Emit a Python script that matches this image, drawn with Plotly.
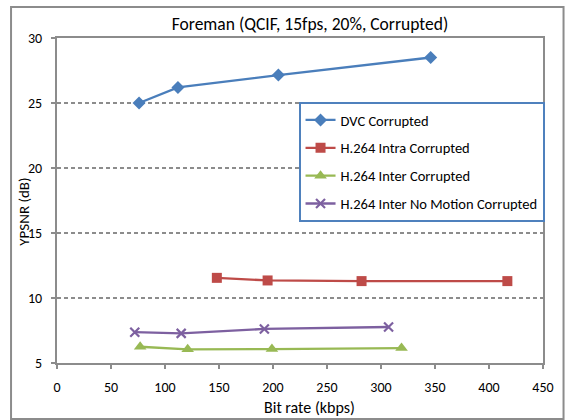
import plotly.graph_objects as go

# Bit rate (kbps) and luminance PSNR (dB) for each codec configuration
dvc_rate = [76, 112, 205, 346]
dvc_psnr = [25.0, 26.2, 27.15, 28.5]

intra_rate = [148, 195, 282, 417]
intra_psnr = [11.55, 11.35, 11.3, 11.3]

inter_rate = [77, 121, 199, 319]
inter_psnr = [6.25, 6.05, 6.07, 6.15]

nomotion_rate = [72, 115, 192, 307]
nomotion_psnr = [7.37, 7.28, 7.62, 7.77]

x_ticks = [0, 50, 100, 150, 200, 250, 300, 350, 400, 450]
y_ticks = [5, 10, 15, 20, 25, 30]

FONT = "Carlito, 'Open Sans', sans-serif"
GRID = "#8c8c8c"

# Plot-area geometry in pixels
L, R, T, B = 57, 12, 38, 57
W, H = 566, 420
PW, PH = W - L - R, H - T - B


def px_x(px):
    return (px - L) / PW


def px_y(py):
    return 1 - (py - T) / PH


fig = go.Figure()

series = [
    ("DVC Corrupted", dvc_rate, dvc_psnr, "#4A7EBB", dict(symbol="diamond", size=10)),
    ("H.264 Intra Corrupted", intra_rate, intra_psnr, "#BE4B48", dict(symbol="square", size=10)),
    ("H.264 Inter Corrupted", inter_rate, inter_psnr, "#98B954", dict(symbol="triangle-up", size=11)),
    ("H.264 Inter No Motion Corrupted", nomotion_rate, nomotion_psnr, "#7D60A0",
     dict(symbol="x-thin", size=9, line=dict(width=2.2, color="#7D60A0"))),
]

for i, (name, xs, ys, color, marker) in enumerate(series):
    fig.add_trace(go.Scatter(
        x=xs, y=ys, name=name, mode="lines+markers",
        line=dict(color=color, width=2.3),
        marker=dict(color=color, **marker),
        legendgroup=f"g{i}",
    ))

# Chart-area frame around the whole figure
fig.add_shape(type="rect", xref="paper", yref="paper",
              x0=px_x(10), x1=px_x(575), y0=px_y(419), y1=px_y(7),
              line=dict(color="#8c8c8c", width=2), layer="below")

# Axis titles
fig.add_annotation(text="Bit rate (kbps)", xref="paper", yref="paper",
                   x=px_x(315), y=px_y(407), xanchor="center", yanchor="middle",
                   showarrow=False, font=dict(family=FONT, size=16))
fig.add_annotation(text="YPSNR (dB)", xref="paper", yref="paper", textangle=-90,
                   x=px_x(23), y=px_y(212), xanchor="center", yanchor="middle",
                   showarrow=False, font=dict(family=FONT, size=15))

fig.update_layout(
    width=W, height=H,
    margin=dict(l=L, r=R, t=T, b=B),
    paper_bgcolor="white", plot_bgcolor="white",
    font=dict(family=FONT, size=14, color="#000000"),
    title=dict(text="Foreman (QCIF, 15fps, 20%, Corrupted)",
               x=310 / W, xanchor="center", y=1 - 24 / H, yanchor="middle",
               font=dict(family=FONT, size=17.5, color="#000000")),
    showlegend=True,
    legend=dict(x=px_x(304), y=px_y(102), xanchor="left", yanchor="top",
                bgcolor="white", bordercolor="#4F81BD", borderwidth=2,
                font=dict(family=FONT, size=14.5), tracegroupgap=6, itemwidth=30,
                entrywidth=216, entrywidthmode="pixels"),
    xaxis=dict(range=[0, 450], tickvals=x_ticks, showgrid=False, zeroline=False,
               showline=True, linecolor=GRID, linewidth=2, mirror=True,
               ticks="outside", ticklen=4, tickcolor=GRID, tickwidth=1.5,
               ticklabelstandoff=6, tickfont=dict(size=14), fixedrange=True),
    yaxis=dict(range=[5, 30], tickvals=y_ticks, showgrid=True, gridcolor=GRID,
               griddash="4px,3px", gridwidth=2, zeroline=False,
               showline=True, linecolor=GRID, linewidth=2, mirror=True,
               ticks="outside", ticklen=4, tickcolor=GRID, tickwidth=1.5,
               ticklabelstandoff=6, tickfont=dict(size=14), fixedrange=True),
)

fig.write_html("out.html")
